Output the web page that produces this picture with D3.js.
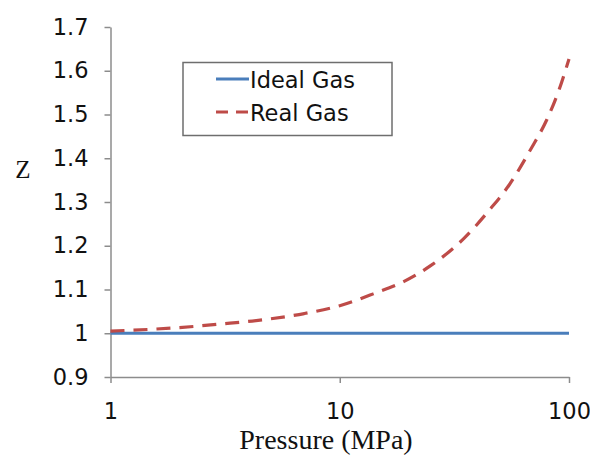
<!DOCTYPE html>
<html>
<head>
<meta charset="utf-8">
<script src="https://cdn.jsdelivr.net/npm/d3@7"></script>
<style>
  html, body { margin: 0; padding: 0; background: #fff; }
  svg { display: block; }
  .tick text { font-family: "DejaVu Sans", sans-serif; font-size: 22.5px; fill: #111; }
</style>
</head>
<body>
<svg id="chart" width="590" height="456"></svg>
<script>
// Compressibility factor Z versus pressure (log scale)
const pressure = [1, 1.5, 2, 3, 5, 7, 10, 14, 19, 25, 35, 45, 55, 68, 80, 90, 100];
const zIdeal   = [1, 1, 1, 1, 1, 1, 1, 1, 1, 1, 1, 1, 1, 1, 1, 1, 1];
const zReal    = [1.005, 1.009, 1.013, 1.021, 1.033, 1.045, 1.063, 1.09, 1.118, 1.155,
                  1.218, 1.282, 1.34, 1.42, 1.488, 1.553, 1.627];
const xTicks = [1, 10, 100];
const yTicks = [0.9, 1, 1.1, 1.2, 1.3, 1.4, 1.5, 1.6, 1.7];
const seriesNames = ["Ideal Gas", "Real Gas"];

const svg = d3.select("#chart");
const plotLeft = 110.5, plotRight = 569, plotTop = 27, plotBottom = 377;

const x = d3.scaleLog().domain([1, 100]).range([plotLeft, plotRight]);
const y = d3.scaleLinear().domain([0.9, 1.7]).range([plotBottom, plotTop]);

const axisColor = "#8c8c8c";

// Axes
const gx = svg.append("g").attr("transform", `translate(0,${plotBottom})`)
  .call(d3.axisBottom(x).tickValues(xTicks).tickFormat(d3.format("d"))
        .tickSize(6).tickSizeOuter(0).tickPadding(20));
const gy = svg.append("g").attr("transform", `translate(${plotLeft},0)`)
  .call(d3.axisLeft(y).tickValues(yTicks).tickFormat(d => String(+d.toFixed(1)))
        .tickSize(6).tickSizeOuter(0).tickPadding(16));
[gx, gy].forEach(g => {
  g.select(".domain").attr("stroke", axisColor).attr("stroke-width", 1.5);
  g.selectAll(".tick line").attr("stroke", axisColor).attr("stroke-width", 1.5);
});

// Series
const line = d3.line().x((d, i) => x(pressure[i])).y(d => y(d)).curve(d3.curveMonotoneX);
svg.append("path").datum(zIdeal).attr("d", line)
  .attr("fill", "none").attr("stroke", "#4a7ebb").attr("stroke-width", 3);
svg.append("path").datum(zReal).attr("d", line)
  .attr("fill", "none").attr("stroke", "#be4b48").attr("stroke-width", 3.2)
  .attr("stroke-dasharray", "14,9");

// Axis titles
svg.append("text").attr("x", 326).attr("y", 449).attr("text-anchor", "middle")
  .style("font-family", "'Liberation Serif', 'Times New Roman', serif")
  .style("font-size", "28px").attr("fill", "#111").text("Pressure (MPa)");
svg.append("text").attr("x", 23).attr("y", 178).attr("text-anchor", "middle")
  .style("font-family", "'Liberation Serif', 'Times New Roman', serif")
  .style("font-size", "25px").attr("fill", "#111").text("Z");

// Legend
const lg = svg.append("g");
lg.append("rect").attr("x", 183).attr("y", 62.5).attr("width", 209).attr("height", 73)
  .attr("fill", "#fff").attr("stroke", "#6e6e6e").attr("stroke-width", 1.5);
const legendStyles = [
  { color: "#4a7ebb", dash: null, w: 3 },
  { color: "#be4b48", dash: "12,8", w: 3.2 }
];
seriesNames.forEach((name, i) => {
  const cy = 79 + i * 33;
  lg.append("line").attr("x1", 216).attr("x2", 249).attr("y1", cy).attr("y2", cy)
    .attr("stroke", legendStyles[i].color).attr("stroke-width", legendStyles[i].w)
    .attr("stroke-dasharray", legendStyles[i].dash);
  lg.append("text").attr("x", 250).attr("y", cy + 8.5)
    .style("font-family", "'DejaVu Sans', sans-serif")
    .style("font-size", "22.5px").attr("fill", "#111").text(name);
});
</script>
</body>
</html>
